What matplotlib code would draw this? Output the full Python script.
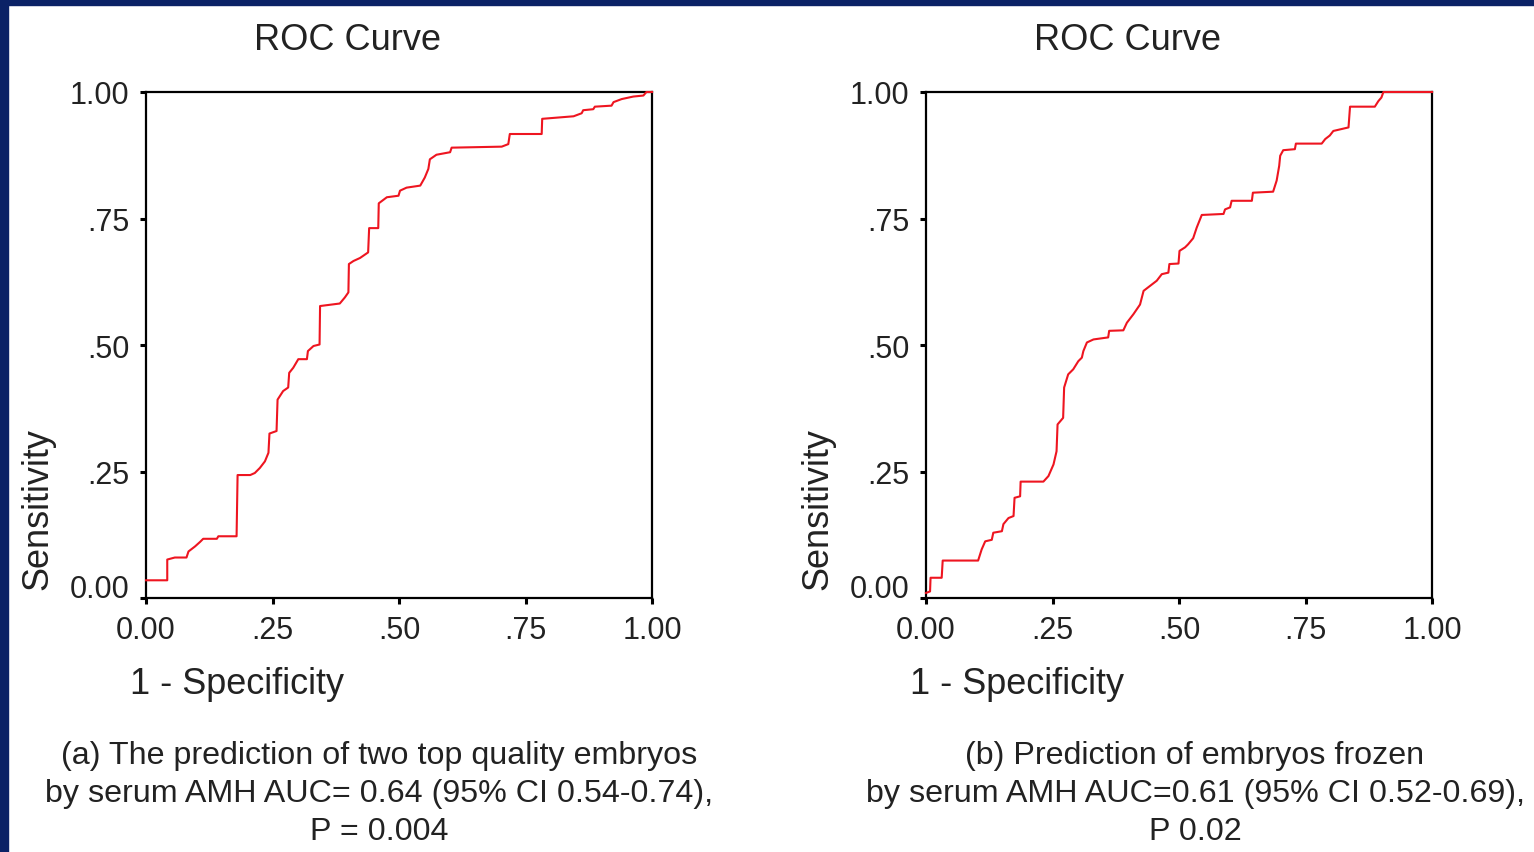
import matplotlib
matplotlib.use("Agg")
import matplotlib.pyplot as plt
import matplotlib.transforms as mtransforms
from matplotlib.patches import Rectangle

plt.rcParams['font.family'] = ['Liberation Sans', 'DejaVu Sans']

# ROC curve (a): two top quality embryos
fpr_a = [0.000, 0.042, 0.042, 0.057, 0.080, 0.084, 0.097, 0.107, 0.113, 0.140,
         0.143, 0.179, 0.181, 0.206, 0.215, 0.225, 0.235, 0.242, 0.244, 0.258,
         0.260, 0.271, 0.281, 0.283, 0.291, 0.301, 0.318, 0.320, 0.331, 0.343,
         0.344, 0.383, 0.393, 0.400, 0.401, 0.410, 0.423, 0.439, 0.441, 0.459,
         0.460, 0.476, 0.499, 0.502, 0.515, 0.542, 0.551, 0.558, 0.561, 0.574,
         0.601, 0.604, 0.703, 0.716, 0.719, 0.782, 0.783, 0.845, 0.861, 0.864,
         0.884, 0.887, 0.920, 0.924, 0.940, 0.963, 0.983, 0.989, 1.000]
tpr_a = [0.035, 0.035, 0.076, 0.080, 0.080, 0.092, 0.102, 0.111, 0.117, 0.117,
         0.122, 0.122, 0.243, 0.243, 0.247, 0.257, 0.270, 0.287, 0.325, 0.330,
         0.392, 0.409, 0.416, 0.445, 0.455, 0.472, 0.472, 0.488, 0.498, 0.501,
         0.577, 0.582, 0.594, 0.604, 0.660, 0.666, 0.672, 0.683, 0.731, 0.731,
         0.780, 0.792, 0.795, 0.805, 0.811, 0.815, 0.831, 0.848, 0.867, 0.876,
         0.881, 0.890, 0.892, 0.897, 0.917, 0.917, 0.947, 0.952, 0.958, 0.964,
         0.966, 0.971, 0.973, 0.980, 0.986, 0.991, 0.993, 1.000, 1.000]

# ROC curve (b): embryos frozen
fpr_b = [0.000, 0.008, 0.009, 0.031, 0.033, 0.103, 0.110, 0.117, 0.130, 0.133,
         0.150, 0.153, 0.163, 0.173, 0.175, 0.186, 0.187, 0.232, 0.242, 0.252,
         0.258, 0.260, 0.271, 0.273, 0.281, 0.291, 0.301, 0.308, 0.311, 0.318,
         0.331, 0.360, 0.362, 0.390, 0.397, 0.410, 0.423, 0.430, 0.443, 0.456,
         0.466, 0.479, 0.481, 0.499, 0.501, 0.512, 0.518, 0.528, 0.535, 0.545,
         0.588, 0.591, 0.601, 0.604, 0.644, 0.646, 0.686, 0.693, 0.698, 0.700,
         0.706, 0.729, 0.731, 0.782, 0.789, 0.798, 0.805, 0.835, 0.838, 0.887,
         0.894, 0.900, 0.904, 1.000]
tpr_b = [0.010, 0.013, 0.040, 0.040, 0.074, 0.074, 0.096, 0.112, 0.115, 0.129,
         0.132, 0.146, 0.158, 0.162, 0.198, 0.201, 0.230, 0.230, 0.241, 0.264,
         0.290, 0.343, 0.356, 0.416, 0.442, 0.452, 0.468, 0.475, 0.488, 0.505,
         0.511, 0.515, 0.528, 0.529, 0.544, 0.561, 0.580, 0.607, 0.617, 0.627,
         0.640, 0.643, 0.660, 0.661, 0.686, 0.693, 0.699, 0.711, 0.732, 0.757,
         0.759, 0.768, 0.772, 0.785, 0.785, 0.801, 0.803, 0.825, 0.854, 0.874,
         0.885, 0.887, 0.898, 0.898, 0.907, 0.914, 0.923, 0.930, 0.971, 0.971,
         0.982, 0.989, 1.000, 1.000]

tick_vals = [0.0, 0.25, 0.5, 0.75, 1.0]
tick_labels = ["0.00", ".25", ".50", ".75", "1.00"]

caption_a = ["(a) The prediction of two top quality embryos",
             "by serum AMH AUC= 0.64 (95% CI 0.54-0.74),",
             "P = 0.004"]
caption_b = ["(b) Prediction of embryos frozen",
             "by serum AMH AUC=0.61 (95% CI 0.52-0.69),",
             "P 0.02"]

W, H = 1534, 853
fig = plt.figure(figsize=(W / 100, H / 100), dpi=100)
fig.patch.set_facecolor("white")

# slide background border (left and top)
navy = "#0b2266"
fig.patches.append(Rectangle((0, 0), 8 / W, 1, transform=fig.transFigure, color=navy, zorder=0))
fig.patches.append(Rectangle((0, 1 - 6 / H), 1, 6 / H, transform=fig.transFigure, color=navy, zorder=0))

txt = "#222222"


def panel(left_px, fpr, tpr, caption, cap_x):
    ax = fig.add_axes([left_px / W, 1 - 599 / H, 506 / W, 506 / H])
    ax.plot(fpr, tpr, color="#ee1520", lw=1.5, zorder=5, clip_on=False)
    ax.set_xlim(0, 1)
    ax.set_ylim(0, 1)
    ax.set_xticks(tick_vals)
    ax.set_xticklabels(tick_labels)
    ax.set_yticks(tick_vals)
    ax.set_yticklabels(tick_labels)
    for s in ax.spines.values():
        s.set_linewidth(1.6)
        s.set_color("black")
        s.set_zorder(2)
    ax.tick_params(axis="both", direction="out", length=4, width=2.2,
                   labelsize=22, colors="black", labelcolor=txt)
    ax.tick_params(axis="y", pad=8)
    ax.tick_params(axis="x", pad=8)
    # the "0.00" on the y axis sits a bit above its tick in the original
    lab0 = ax.get_yticklabels()[0]
    lab0.set_transform(lab0.get_transform() +
                       mtransforms.ScaledTranslation(0, 13 / 100, fig.dpi_scale_trans))

    # title / axis labels placed like the original (not centred on the axes)
    fig.text((left_px + 201) / W, 1 - 40 / H, "ROC Curve", ha="center", va="center",
             fontsize=26, color=txt)
    fig.text((left_px - 16) / W, 1 - 685 / H, "1 - Specificity", ha="left", va="center",
             fontsize=26, color=txt)
    fig.text((left_px - 108) / W, 1 - 509 / H, "Sensitivity", ha="center", va="center",
             rotation=90, fontsize=26, color=txt)

    for i, line in enumerate(caption):
        fig.text(cap_x / W, 1 - (756 + 38 * i) / H, line, ha="center", va="center",
                 fontsize=23.2, color=txt)
    return ax


panel(146, fpr_a, tpr_a, caption_a, 379)
panel(926, fpr_b, tpr_b, caption_b, 1195)

fig.savefig("out.png", dpi=100, facecolor=fig.get_facecolor())
